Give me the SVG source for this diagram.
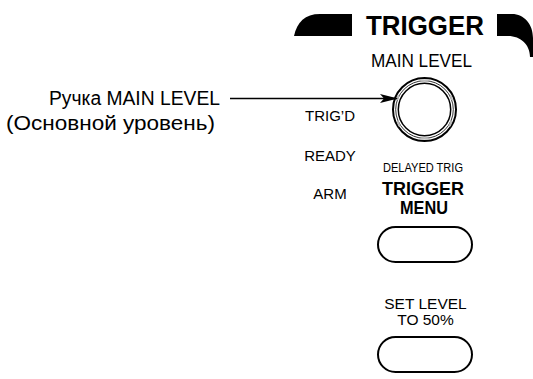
<svg xmlns="http://www.w3.org/2000/svg" width="533" height="379" viewBox="0 0 533 379">
  <style>
    .t { font-family: "Liberation Sans", Arial, Helvetica, sans-serif; fill: #000; }
    .b { font-weight: bold; }
    .mid { text-anchor: middle; }
    .ring { fill: none; stroke: #000; }
    .btn { fill: #fff; stroke: #000; stroke-width: 2; }
    .tick { stroke: #bbb; stroke-width: 2.2; }
  </style>
  <defs>
    <marker id="arrow" viewBox="0 0 18 10" refX="17" refY="5" markerWidth="18" markerHeight="10" markerUnits="userSpaceOnUse" orient="auto">
      <path d="M0,0.5 L18,5 L0,9.5 L4,5 Z" fill="#000"/>
    </marker>
  </defs>
  <rect width="533" height="379" fill="#fff"/>

  <!-- panel header -->
  <g id="header">
    <path d="M294,36 C297,22 305,14 320,14 H352 V36 Z" fill="#000"/>
    <text class="t b mid" x="425" y="35" font-size="27.5" textLength="118" lengthAdjust="spacingAndGlyphs">TRIGGER</text>
    <path d="M497,14 H512 C524,14 533,24 533,38 V57 H530 C530,45 521,36 508,36 H497 Z" fill="#000"/>
  </g>

  <!-- MAIN LEVEL knob -->
  <g id="main-level-knob">
    <text class="t mid" x="421.5" y="67" font-size="17.5" textLength="101" lengthAdjust="spacingAndGlyphs">MAIN LEVEL</text>
    <circle class="ring" cx="424.5" cy="109.5" r="31.5" stroke-width="2"/>
    <circle class="ring" cx="424.5" cy="109.5" r="28.8" stroke-width="0.8" stroke="#777"/>
    <circle class="ring" cx="424.5" cy="109.5" r="26.2" stroke-width="1.5"/>
    <line class="tick" x1="420.5" y1="80.5" x2="428.5" y2="80.5"/>
    <line class="tick" x1="420.5" y1="138.5" x2="428.5" y2="138.5"/>
    <line class="tick" x1="397" y1="100" x2="398.5" y2="95"/>
    <line class="tick" x1="452" y1="100" x2="450.5" y2="95"/>
    <line class="tick" x1="397.5" y1="121" x2="399.5" y2="126"/>
    <line class="tick" x1="451.5" y1="121" x2="449.5" y2="126"/>
  </g>

  <!-- status lights -->
  <g id="status-labels">
    <text class="t mid" x="330" y="121" font-size="15">TRIG’D</text>
    <text class="t mid" x="330" y="161" font-size="15">READY</text>
    <text class="t mid" x="330" y="199" font-size="15">ARM</text>
  </g>

  <!-- TRIGGER MENU button -->
  <g id="trigger-menu">
    <text class="t mid" x="423" y="172" font-size="12" textLength="80" lengthAdjust="spacingAndGlyphs">DELAYED TRIG</text>
    <text class="t b mid" x="423" y="195" font-size="18">TRIGGER</text>
    <text class="t b mid" x="424" y="214" font-size="17.5" textLength="48" lengthAdjust="spacingAndGlyphs">MENU</text>
    <rect class="btn" x="378" y="227" width="94" height="35" rx="17.5"/>
  </g>

  <!-- SET LEVEL TO 50% button -->
  <g id="set-level">
    <text class="t mid" x="425.5" y="309" font-size="15.5">SET LEVEL</text>
    <text class="t mid" x="425.5" y="325" font-size="15.5">TO 50%</text>
    <rect class="btn" x="378" y="337" width="94" height="35" rx="17.5"/>
  </g>

  <!-- callout -->
  <g id="callout-label">
    <text class="t" x="49" y="105" font-size="19.5" textLength="171" lengthAdjust="spacingAndGlyphs">Ручка MAIN LEVEL</text>
    <text class="t" x="6" y="130" font-size="20" textLength="209" lengthAdjust="spacingAndGlyphs">(Основной уровень)</text>
  </g>

  <g id="connectors">
    <line x1="230" y1="98.5" x2="397" y2="98.5" stroke="#000" stroke-width="1.6" marker-end="url(#arrow)"/>
  </g>
</svg>
